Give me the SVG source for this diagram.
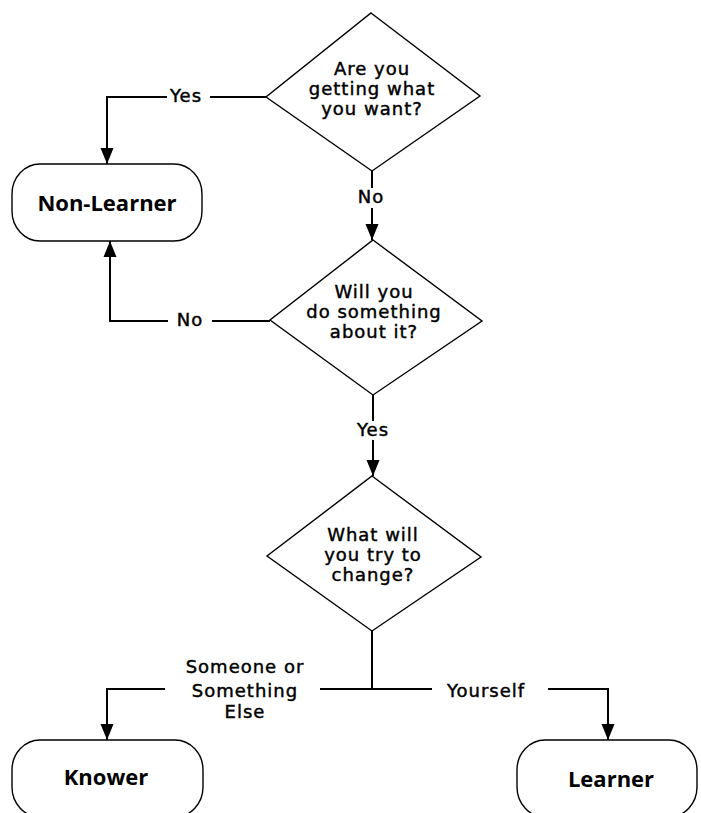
<svg xmlns="http://www.w3.org/2000/svg" width="701" height="813" viewBox="0 0 701 813">
<style>
.shape{fill:#fff;stroke:#000;stroke-width:1.4}
.conn{fill:none;stroke:#000;stroke-width:2}
.q{font-family:"DejaVu Sans",sans-serif;font-size:18px;letter-spacing:1px;text-anchor:middle;fill:#000;stroke:#000;stroke-width:0.45}
.lbl{font-family:"DejaVu Sans",sans-serif;font-size:18px;letter-spacing:1px;text-anchor:middle;fill:#000;stroke:#000;stroke-width:0.45}
.term{font-family:"Open Sans",sans-serif;font-size:22px;font-weight:bold;text-anchor:middle;fill:#000}
</style>
<defs>
<marker id="arr" markerUnits="userSpaceOnUse" markerWidth="18" markerHeight="14" refX="16" refY="7" orient="auto">
<path d="M0,0.5 L16,7 L0,13.5 z" fill="#000"/>
</marker>
</defs>
<rect width="701" height="813" fill="#fff"/>
<g id="connectors">
<path class="conn" d="M266,97 H210"/>
<path class="conn" d="M167,97 H107 V164" marker-end="url(#arr)"/>
<text class="lbl" x="186" y="102">Yes</text>
<path class="conn" d="M372,171 V188"/>
<path class="conn" d="M372,208 V240" marker-end="url(#arr)"/>
<text class="lbl" x="371" y="203">No</text>
<path class="conn" d="M270,321 H212"/>
<path class="conn" d="M168,321 H110 V241" marker-end="url(#arr)"/>
<text class="lbl" x="190" y="326">No</text>
<path class="conn" d="M373,395 V421"/>
<path class="conn" d="M373,440 V476" marker-end="url(#arr)"/>
<text class="lbl" x="373" y="436">Yes</text>
<path class="conn" d="M372,631 V689 H432"/>
<path class="conn" d="M548,689 H608 V740" marker-end="url(#arr)"/>
<text class="lbl" x="486" y="697">Yourself</text>
<path class="conn" d="M372,689 H320"/>
<path class="conn" d="M165,689 H107 V740" marker-end="url(#arr)"/>
<text class="lbl" x="245" y="673">Someone or</text>
<text class="lbl" x="245" y="697">Something</text>
<text class="lbl" x="245" y="718">Else</text>
</g>
<g id="q1">
<polygon class="shape" points="371,13 480,96 372,171 266,97"/>
<text class="q" x="372" y="75">Are you</text>
<text class="q" x="372" y="95">getting what</text>
<text class="q" x="372" y="115">you want?</text>
</g>
<g id="q2">
<polygon class="shape" points="373,240 482,321 373,395 270,320"/>
<text class="q" x="374" y="298">Will you</text>
<text class="q" x="374" y="318">do something</text>
<text class="q" x="374" y="338">about it?</text>
</g>
<g id="q3">
<polygon class="shape" points="372,476 481,557 372,631 267,556"/>
<text class="q" x="373" y="541">What will</text>
<text class="q" x="373" y="561">you try to</text>
<text class="q" x="373" y="581">change?</text>
</g>
<g id="nonlearner">
<rect class="shape" x="12" y="164" width="190" height="77" rx="28" ry="30"/>
<text class="term" x="107" y="211">Non-Learner</text>
</g>
<g id="knower">
<rect class="shape" x="12" y="740" width="191" height="77" rx="28" ry="30"/>
<text class="term" x="106" y="785">Knower</text>
</g>
<g id="learner">
<rect class="shape" x="517" y="740" width="180" height="77" rx="28" ry="30"/>
<text class="term" x="611" y="787">Learner</text>
</g>
</svg>
